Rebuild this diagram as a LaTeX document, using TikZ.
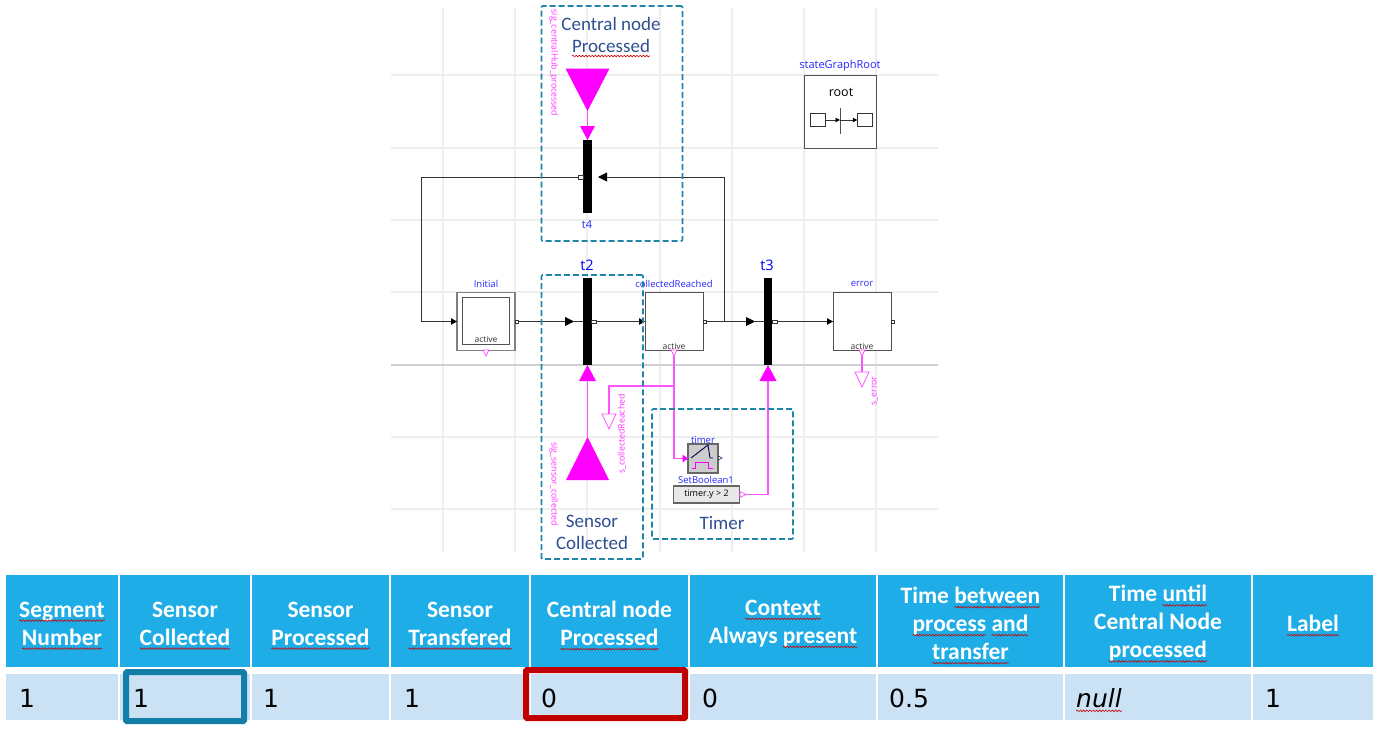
\documentclass[tikz,border=0pt]{standalone}
\usepackage{fontspec}
\setmainfont{Carlito}
\newfontfamily\valuefont{DejaVu Sans}
\newfontfamily\omfont{Open Sans}
\usetikzlibrary{arrows.meta,decorations.pathmorphing,calc}

\definecolor{gridgrey}{HTML}{EEEEEE}
\definecolor{wiregrey}{HTML}{333333}
\definecolor{sigpink}{HTML}{FF00FF}
\definecolor{siglight}{HTML}{FF55FF}
\definecolor{framebl}{HTML}{1F85A9}
\definecolor{captionbl}{HTML}{2F5090}
\definecolor{headbl}{HTML}{1EADE6}
\definecolor{rowbl}{HTML}{CBE2F5}
\definecolor{markred}{HTML}{C00000}
\definecolor{markbl}{HTML}{137FA8}

\newlength\wavylen
\newcommand{\wavy}[1]{\settowidth\wavylen{#1}\leavevmode\rlap{#1}\tikz[baseline=0pt,x=1pt,y=1pt]{\useasboundingbox (0,0) rectangle (\wavylen,0);\draw[overlay,red!80!black,line width=.6pt,decorate,decoration={snake,amplitude=.8pt,segment length=3.2pt}] (0,-3.5pt) -- (\wavylen,-3.5pt);}}

\tikzset{
  gridline/.style={gridgrey,line width=1.2pt},
  wire/.style={wiregrey,line width=.9pt},
  tip/.style={-{Triangle[length=9pt,width=9pt,color=black]}},
  smalltip/.style={-{Triangle[length=6pt,width=6.5pt,color=black]}},
  siggy/.style={siglight,line width=1.1pt},
  bar/.style={fill=black,inner sep=0,outer sep=0,minimum width=8.6pt},
  stepbox/.style={draw=wiregrey!85,line width=.9pt,fill=white,inner sep=0,outer sep=0,minimum width=58pt,minimum height=58pt},
  port/.style={draw=wiregrey,line width=.5pt,fill=white,inner sep=0,outer sep=0,minimum width=3.5pt,minimum height=3.5pt},
  blue label/.style={blue!85!white,inner sep=0,font=\omfont\fontsize{9.5}{11}\selectfont},
  bar label/.style={blue,inner sep=0,font=\omfont\fontsize{14.5}{16}\selectfont},
  active label/.style={black!80,inner sep=0,font=\omfont\fontsize{8.5}{10}\selectfont},
  sig label/.style={sigpink!80,inner sep=0,font=\omfont\fontsize{8.8}{10}\selectfont},
  frame box/.style={draw=framebl,line width=1.7pt,dash pattern=on 6pt off 3pt,rounded corners=1pt},
  caption/.style={captionbl,inner sep=0,align=center,font=\fontsize{19}{22}\selectfont},
  headcell/.style={fill=headbl,inner sep=0,outer sep=0,minimum height=92pt},
  headtext/.style={text=white,inner sep=0,align=center,font=\bfseries\fontsize{23.5}{28}\selectfont},
  rowcell/.style={fill=rowbl,inner sep=0,outer sep=0,minimum height=46pt},
  value/.style={inner sep=0,anchor=west,font=\valuefont\fontsize{25}{28}\selectfont},
}

\begin{document}
\begin{tikzpicture}[x=1pt,y=-1pt]
  \useasboundingbox (0,0) rectangle (1379,729);

  % grid
  \foreach \x in {443,515,587,660,732,804,876}{
    \draw[gridline] (\x,8) -- (\x,552);
  }
  \foreach \y in {75,148,220,292,437,509}{
    \draw[gridline] (391,\y) -- (938,\y);
  }
  \draw[gridline,black!18] (391,365) -- (938,365);

  % transitions
  \node[bar,minimum height=73pt] (t4) at (587.3,176.5) {};
  \node[bar,minimum height=87pt] (t2) at (587.3,321.5) {};
  \node[bar,minimum height=87pt] (t3) at (768,321.5) {};
  \node[bar label] (t2name) at (587,265) {t2};
  \node[bar label] (t3name) at (767,265) {t3};
  \node[blue label,font=\omfont\fontsize{11}{13}\selectfont] (t4name) at (587,225) {t4};

  % steps
  \node[stepbox,draw=black!50,line width=1.5pt] (initial) at (486,321.5) {};
  \node[stepbox,minimum width=47.5pt,minimum height=47pt] (initialinner) at (486,320.5) {};
  \node[stepbox] (collected) at (674,321.5) {};
  \node[stepbox] (error) at (862,321.5) {};
  \node[blue label] (initialname) at (486,284) {Initial};
  \node[blue label] (collectedname) at (674,284) {collectedReached};
  \node[blue label] (errorname) at (862,284) {error};
  \node[active label] (initialact) at (486,339) {active};
  \node[active label] (collectedact) at (674,346) {active};
  \node[active label] (erroract) at (862,346) {active};

  \node[port,anchor=west] (initialport) at (initial.east) {};
  \node[port,anchor=west,minimum width=4.5pt] (t2port) at (t2.east) {};
  \node[port,anchor=west] (collectedport) at (collected.east) {};
  \node[port,anchor=west,minimum width=4.5pt] (t3port) at (t3.east) {};
  \node[port,anchor=west] (errorport) at (error.east) {};
  \node[port,anchor=east,minimum width=4.5pt] (t4port) at (t4.west |- 0,177) {};

  % state graph wires
  \coordinate (t2tip) at (574,321.5);
  \coordinate (t3tip) at (755,321.5);
  \coordinate (t4tip) at (598,177);
  \coordinate (branch) at (724,321.5);
  \coordinate (branchtop) at (724,177);
  \coordinate (loopleft) at (421,177);
  \draw[wire] (t4port.west) -- (loopleft);
  \draw[wire,smalltip] (loopleft) |- (initial.west);
  \draw[wire,tip] (initialport.east) -- (t2tip);
  \draw[wire] (t2tip) -- (t2.west);
  \draw[wire,smalltip] (t2port.east) -- (collected.west);
  \draw[wire,tip] (collectedport.east) -- (t3tip);
  \draw[wire] (t3tip) -- (t3.west);
  \draw[wire,smalltip] (t3port.east) -- (error.west);
  \draw[wire] (branch) -- (branchtop);
  \draw[wire,tip] (branchtop) -- (t4tip);

  % signal triangles, filled and open
  \foreach \x/\ya/\yb/\h in {587.5/68.5/111/22,587.5/126/140/7.5,587.5/381/365/8.5,768/381/365/8.5,587.5/480/437/21.5}{
    \fill[sigpink] ({\x-\h},\ya) -- ({\x+\h},\ya) -- (\x,\yb) -- cycle;
  }
  \foreach \x/\ya/\yb/\h in {609/414/429/7,862/372/387/7,486/350/356/3,674/350/356/3,862/350/356/3}{
    \filldraw[siggy,line width=.8pt,fill=white] ({\x-\h},\ya) -- ({\x+\h},\ya) -- (\x,\yb) -- cycle;
  }

  % timer blocks
  \node[draw=black!60,line width=1.1pt,fill=black!20,inner sep=0,outer sep=0,minimum width=30pt,minimum height=29pt] (timer) at (703,458.5) {};
  \draw[blue!35!black,line width=.9pt] (691,458) -- (708,445) -- (710,458) -- (713,458);
  \draw[sigpink,line width=.9pt] (692,468) -- (695,468) -- (695,462) -- (708,462) -- (708,468) -- (713,468);
  \node[blue label] (timername) at (703,440) {timer};
  \node[blue label] (setname) at (706,480) {SetBoolean1};
  \node[draw=black!60,line width=1.1pt,fill=black!9,inner sep=0,outer sep=0,minimum width=66pt,minimum height=17pt,font=\omfont\fontsize{9}{11}\selectfont] (setbool) at (706.5,494.5) {timer.y > 2};
  \draw[blue!35!black,line width=.5pt] (718.5,456) -- (722,458) -- (718.5,460);
  \draw[siggy,line width=.7pt,fill=white] (740,491.5) -- (746,494.5) -- (740,497.5) -- cycle;

  % signal wires
  \coordinate (hubtip) at (587.5,111);
  \coordinate (hubsmall) at (587.5,126);
  \coordinate (sensorbar) at (587.5,381);
  \coordinate (sensortip) at (587.5,437);
  \coordinate (t3foot) at (768,381);
  \coordinate (boolout) at (746,494.5);
  \coordinate (activefoot) at (674,356);
  \coordinate (tee) at (674,386);
  \coordinate (reachedtop) at (609,414);
  \coordinate (erroropen) at (862,372);
  \coordinate (errorfoot) at (862,356);
  \draw[siggy,line width=1.3pt] (hubtip) -- (hubsmall);
  \draw[siggy,line width=1.3pt] (sensorbar) -- (sensortip);
  \draw[siggy] (boolout) -| (t3foot);
  \draw[siggy] (errorfoot) -- (erroropen);
  \draw[siggy] (tee) -| (reachedtop);
  \draw[siggy,-{Triangle[length=5.5pt,width=7.5pt,color=sigpink]}] (activefoot) |- (timer.west);

  % signal names
  \node[sig label,rotate=-90] (hubsig) at (554,63) {sig\_centralHub\_processed};
  \node[sig label,rotate=-90] (sensorsig) at (554,484) {sig\_sensor\_collected};
  \node[sig label,rotate=90] (reachedsig) at (622,434) {s\_collectedReached};
  \node[sig label,rotate=90] (errorsig) at (875,391) {s\_error};

  % root block
  \node[stepbox,minimum width=72pt,minimum height=72.5pt] (root) at (840,112) {};
  \node[blue label,font=\omfont\fontsize{11}{13}\selectfont] (rootname) at (840,66) {stateGraphRoot};
  \node[inner sep=0,font=\omfont\fontsize{12.5}{14}\selectfont] (roottext) at (841,92) {root};
  \node[port,minimum width=14.5pt,minimum height=13pt] (rootleft) at (817.5,120) {};
  \node[port,minimum width=14.5pt,minimum height=13pt] (rootright) at (864.5,120) {};
  \coordinate (rootmid) at (840,120);
  \draw[wiregrey!85,line width=.9pt] (840,108) -- (840,134);
  \draw[wire,-{Triangle[length=4.5pt,width=4.5pt,color=black]}] (rootleft.east) -- (rootmid);
  \draw[wire,-{Triangle[length=4.5pt,width=4.5pt,color=black]}] (rootmid) -- (rootright.west);

  % highlighted parts
  \node[frame box,inner sep=0,outer sep=0,minimum width=141pt,minimum height=235pt] (hubframe) at (612,123.5) {};
  \node[frame box,inner sep=0,outer sep=0,minimum width=101.5pt,minimum height=284pt] (sensorframe) at (592.2,417) {};
  \node[frame box,inner sep=0,outer sep=0,minimum width=141pt,minimum height=130pt] (timerframe) at (722.5,474) {};
  \node[caption] (hubcaption) at (611,35) {Central node\\\wavy{Processed}};
  \node[caption] (sensorcaption) at (592,532) {Sensor\\Collected};
  \node[caption] (timercaption) at (722,523) {Timer};

  % table
  \foreach \i/\cx/\w/\txt in {
    1/62/112/{\wavy{Segment}\\\wavy{Number}},
    2/185/130/{Sensor\\\wavy{Collected}},
    3/320.5/137/{Sensor\\\wavy{Processed}},
    4/460/138/{Sensor\\\wavy{Transfered}},
    5/609.5/157/{Central node\\\wavy{Processed}},
    6/783/186/{\wavy{Context}\\Always \wavy{present}},
    7/970.5/185/{Time \wavy{between}\\\wavy{process} \wavy{and}\\\wavy{transfer}},
    8/1158/186/{Time \wavy{until}\\Central Node\\\wavy{processed}},
    9/1313/120/{\wavy{Label}}}{
    \node[rowcell,minimum width=\w pt] (cell\i) at (\cx,697) {};
    \node[headcell,minimum width=\w pt] (head\i) at (\cx,621) {};
    \node[headtext] (headname\i) at (\cx,623.5) {\txt};
  }
  \foreach \i/\x/\txt in {1/19/1,2/133/1,3/263/1,4/404/1,5/541/0,6/702/0,7/889/0.5,9/1265/1}{
    \node[value] (val\i) at (\x,698) {\txt};
  }
  \node[value,font=\valuefont\itshape\fontsize{25}{28}\selectfont] (val8) at (1076,698) {\wavy{null}};

  \node[draw=markbl,line width=6pt,rounded corners=1pt,inner sep=0,outer sep=0,minimum width=118pt,minimum height=49pt] (mark1) at (185,696.5) {};
  \node[draw=markred,line width=6pt,rounded corners=1pt,inner sep=0,outer sep=0,minimum width=159pt,minimum height=48pt] (mark2) at (605.5,694) {};
\end{tikzpicture}
\end{document}
